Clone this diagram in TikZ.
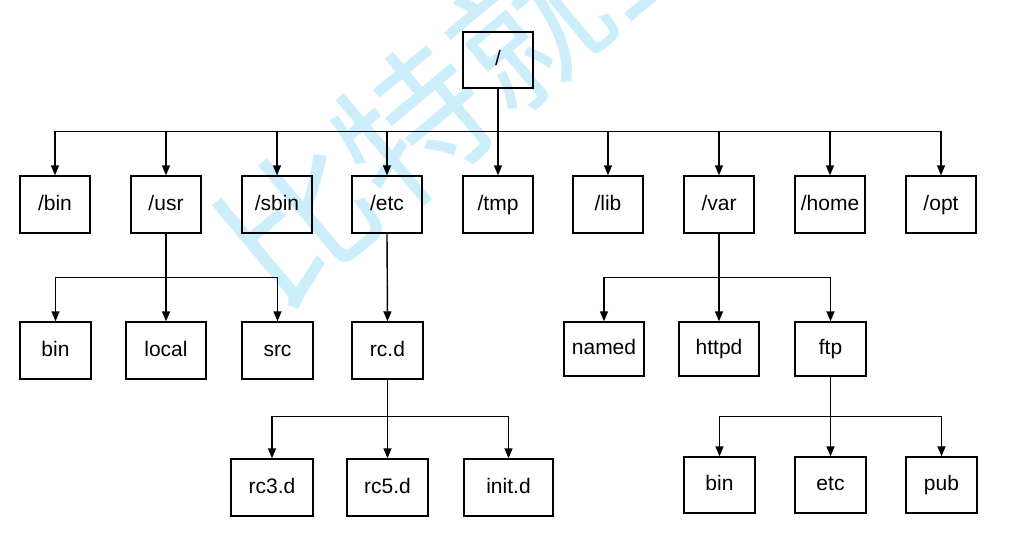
\documentclass[tikz,border=0pt]{standalone}
\usepackage{fontspec}
\setmainfont{Liberation Sans}
\newfontfamily\cjk{Noto Sans CJK SC}
\usepackage{tikz}
\usetikzlibrary{arrows.meta}

\definecolor{wmark}{RGB}{204,238,250}

\tikzset{
  folder/.style={draw, line width=1.4pt, inner sep=0pt, minimum width=#1,
    minimum height=57pt, text height=15pt, text depth=4pt,
    font=\fontsize{21}{21}\selectfont},
  folder/.default=70pt,
  link/.style={line width=1.4pt, -{Triangle[width=8pt,length=10pt]}}
}

\begin{document}
\begin{tikzpicture}[x=1pt,y=-1pt]
  \useasboundingbox (0,0) rectangle (1021,557);
  % watermark
  \begin{scope}
    \clip (0,0) rectangle (1021,557);
    \node[wmark, rotate=40, font=\cjk\fontsize{150}{150}\selectfont, anchor=west]
      (mark) at (238,272) {比特就业课};
  \end{scope}

  % root and first level
  \node[folder, minimum height=56pt] (root) at (498,60) {/};
  \node[folder] (bin)  at (55,204.5)  {/bin};
  \node[folder] (usr)  at (166,204.5) {/usr};
  \node[folder] (sbin) at (277,204.5) {/sbin};
  \node[folder] (etc)  at (387,204.5) {/etc};
  \node[folder] (tmp)  at (498,204.5) {/tmp};
  \node[folder] (lib)  at (608,204.5) {/lib};
  \node[folder] (var)  at (719,204.5) {/var};
  \node[folder] (home) at (830,204.5) {/home};
  \node[folder] (opt)  at (941,204.5) {/opt};
  \foreach \c in {bin,usr,sbin,etc,tmp,lib,var,home,opt}
    \draw[link] (root.south) -- ++(0,43) -| (\c.north);

  % /usr
  \node[folder=71pt] (ubin)  at (55.5,350.5) {bin};
  \node[folder=80pt] (local) at (166,350.5)  {local};
  \node[folder=71pt] (src)   at (277.5,350.5) {src};
  \foreach \c in {ubin,local,src}
    \draw[link] (usr.south) -- ++(0,44) -| (\c.north);

  % /etc
  \node[folder=71pt] (rcd) at (387.5,350.5) {rc.d};
  \draw[link] (etc.south) -- (rcd.north);
  \node[folder=82pt] (rcthree) at (272,487.5) {rc3.d};
  \node[folder=81pt] (rcfive)  at (387.5,487.5) {rc5.d};
  \node[folder=89pt] (initd)   at (508.5,487.5) {init.d};
  \foreach \c in {rcthree,rcfive,initd}
    \draw[link] (rcd.south) -- ++(0,37) -| (\c.north);

  % /var
  \node[folder=80pt, minimum height=54pt] (named) at (604,349)   {named};
  \node[folder=80pt, minimum height=54pt] (httpd) at (719,349)   {httpd};
  \node[folder=71pt, minimum height=54pt] (ftp)   at (830.5,349) {ftp};
  \foreach \c in {named,httpd,ftp}
    \draw[link] (var.south) -- ++(0,44) -| (\c.north);

  % ftp
  \node[folder=71pt, minimum height=56pt] (fbin) at (719.5,485) {bin};
  \node[folder=71pt, minimum height=56pt] (fetc) at (830.5,485) {etc};
  \node[folder=71pt, minimum height=56pt] (pub)  at (941.5,485) {pub};
  \foreach \c in {fbin,fetc,pub}
    \draw[link] (ftp.south) -- ++(0,40) -| (\c.north);
\end{tikzpicture}
\end{document}
